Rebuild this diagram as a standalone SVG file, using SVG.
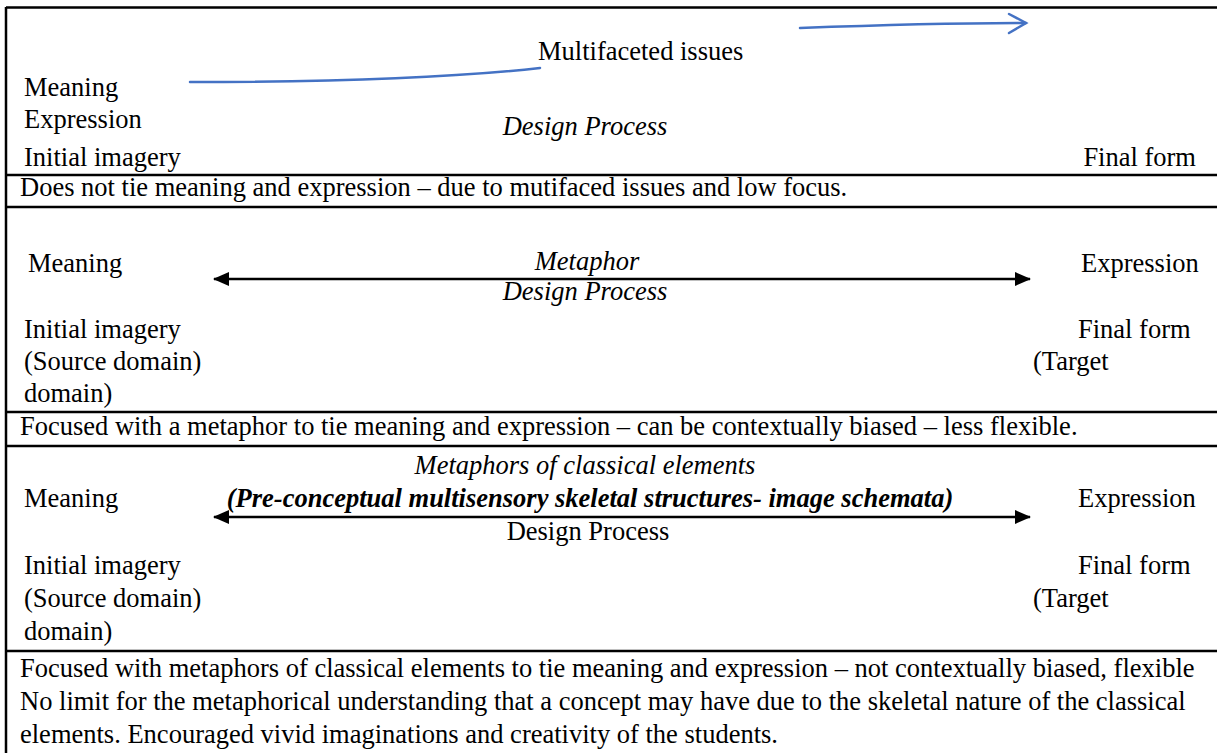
<svg xmlns="http://www.w3.org/2000/svg" width="1217" height="753" viewBox="0 0 1217 753">
<style>
text{font-family:'Liberation Serif','Times New Roman',Tinos,'DejaVu Serif',serif;font-size:26.5px;fill:#000}
.i{font-style:italic}
.bi{font-style:italic;font-weight:bold}
.m{text-anchor:middle}
.e{text-anchor:end}
.rule{stroke:#000;stroke-width:2.5;fill:none}
.blue{stroke:#4472C4;stroke-width:2.5;fill:none;stroke-linecap:round}
.blk{stroke:#000;stroke-width:2.5;fill:none}
</style>
<defs>
<marker id="ah" viewBox="0 0 16 14" refX="15" refY="7" markerWidth="16" markerHeight="14" markerUnits="userSpaceOnUse" orient="auto-start-reverse">
<path d="M0,0 L16,7 L0,14 Z" fill="#000"/>
</marker>
</defs>
<rect width="1217" height="753" fill="#fff"/>
<g id="frame">
<path class="rule" d="M6,7.5 H1217 M6,7 V753 M6,175 H1217 M6,207 H1217 M6,412 H1217 M6,446 H1217 M6,651 H1217"/>
</g>
<g id="connectors">
<path class="blue" d="M190,82 C330,82 450,78 540,68"/>
<path class="blue" d="M800,28 C880,25 960,23 1026,23"/>
<path class="blue" d="M1009,14 L1026,23 L1009,33"/>
<line class="blk" x1="214" y1="279" x2="1030" y2="279" marker-start="url(#ah)" marker-end="url(#ah)"/>
<line class="blk" x1="214" y1="517" x2="1030" y2="517" marker-start="url(#ah)" marker-end="url(#ah)"/>
</g>
<g id="row1" font-family="Liberation Serif, serif">
<text x="538" y="60">Multifaceted issues</text>
<text x="24" y="96">Meaning</text>
<text x="24" y="128">Expression</text>
<text class="i m" x="585" y="135">Design Process</text>
<text x="24" y="166">Initial imagery</text>
<text class="e" x="1196" y="166">Final form</text>
</g>
<g id="note1">
<text x="20" y="196">Does not tie meaning and expression – due to mutifaced issues and low focus.</text>
</g>
<g id="row2">
<text x="28" y="272">Meaning</text>
<text class="i m" x="587" y="270">Metaphor</text>
<text class="i m" x="585" y="300">Design Process</text>
<text x="1081" y="272">Expression</text>
<text x="24" y="338">Initial imagery</text>
<text x="1078" y="338">Final form</text>
<text x="24" y="370">(Source domain)</text>
<text x="1033" y="370">(Target</text>
<text x="24" y="402">domain)</text>
</g>
<g id="note2">
<text x="20" y="435">Focused with a metaphor to tie meaning and expression – can be contextually biased – less flexible.</text>
</g>
<g id="row3">
<text class="i m" x="585" y="474">Metaphors of classical elements</text>
<text x="24" y="507">Meaning</text>
<text class="bi m" x="590" y="507">(Pre-conceptual multisensory skeletal structures- image schemata)</text>
<text x="1078" y="507">Expression</text>
<text class="m" x="588" y="540">Design Process</text>
<text x="24" y="574">Initial imagery</text>
<text x="1078" y="574">Final form</text>
<text x="24" y="607">(Source domain)</text>
<text x="1033" y="607">(Target</text>
<text x="24" y="640">domain)</text>
</g>
<g id="note3">
<text x="20" y="677">Focused with metaphors of classical elements to tie meaning and expression – not contextually biased, flexible</text>
<text x="20" y="710">No limit for the metaphorical understanding that a concept may have due to the skeletal nature of the classical</text>
<text x="20" y="743">elements. Encouraged vivid imaginations and creativity of the students.</text>
</g>
</svg>
